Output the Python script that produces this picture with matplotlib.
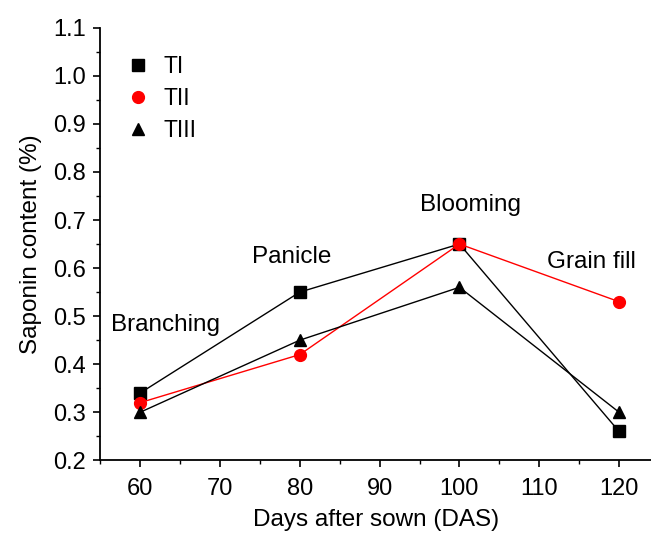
import matplotlib.pyplot as plt
from matplotlib.lines import Line2D
from matplotlib.ticker import MultipleLocator, FormatStrFormatter

plt.rcParams["font.family"] = ["Liberation Sans", "DejaVu Sans"]

days = [60, 80, 100, 120]
series_names = ["TI", "TII", "TIII"]
ti = [0.34, 0.55, 0.65, 0.26]
tii = [0.32, 0.42, 0.65, 0.53]
tiii = [0.30, 0.45, 0.56, 0.30]
stage_labels = ["Branching", "Panicle", "Blooming", "Grain fill"]
stage_x = [63.2, 79.0, 101.4, 116.5]
stage_y = [0.482, 0.623, 0.732, 0.613]

colors = ["black", "red", "black"]
markers = ["s", "o", "^"]


def main() -> None:
    fig = plt.figure(figsize=(6.51, 5.34), dpi=100)
    ax = fig.add_axes([0.154, 0.138, 0.846, 0.810])

    for values, color, marker in zip([ti, tii, tiii], colors, markers):
        ax.plot(days, values, color=color, marker=marker, markersize=8.5,
                linewidth=1.0, clip_on=False, zorder=3)

    for label, x, y in zip(stage_labels, stage_x, stage_y):
        ax.text(x, y, label, fontsize=17.5, ha="center", va="center")

    handles = [Line2D([], [], linestyle="none", color=c, marker=m, markersize=8.5)
               for c, m in zip(colors, markers)]
    ax.legend(handles, series_names, loc="upper left", bbox_to_anchor=(0.015, 0.985),
              frameon=False, fontsize=16.5, handlelength=0.8, handletextpad=0.7,
              labelspacing=0.4)

    ax.set_xlim(55, 124)
    ax.set_ylim(0.2, 1.1)
    ax.xaxis.set_major_locator(MultipleLocator(10))
    ax.xaxis.set_minor_locator(MultipleLocator(5))
    ax.yaxis.set_major_locator(MultipleLocator(0.1))
    ax.yaxis.set_minor_locator(MultipleLocator(0.05))
    ax.yaxis.set_major_formatter(FormatStrFormatter("%.1f"))

    ax.spines["top"].set_visible(False)
    ax.spines["right"].set_visible(False)
    for side in ["left", "bottom"]:
        ax.spines[side].set_linewidth(1.3)
    ax.tick_params(which="major", direction="out", length=5, width=1.2, labelsize=17)
    ax.tick_params(axis="x", which="major", pad=8)
    ax.tick_params(axis="y", which="major", pad=5)
    ax.tick_params(which="minor", direction="out", length=3, width=1.0)

    ax.set_xlabel("Days after sown (DAS)", fontsize=17.5, labelpad=6)
    ax.set_ylabel("Saponin content (%)", fontsize=17.5, labelpad=8)

    fig.savefig("out.png", dpi=100)


if __name__ == "__main__":
    main()
